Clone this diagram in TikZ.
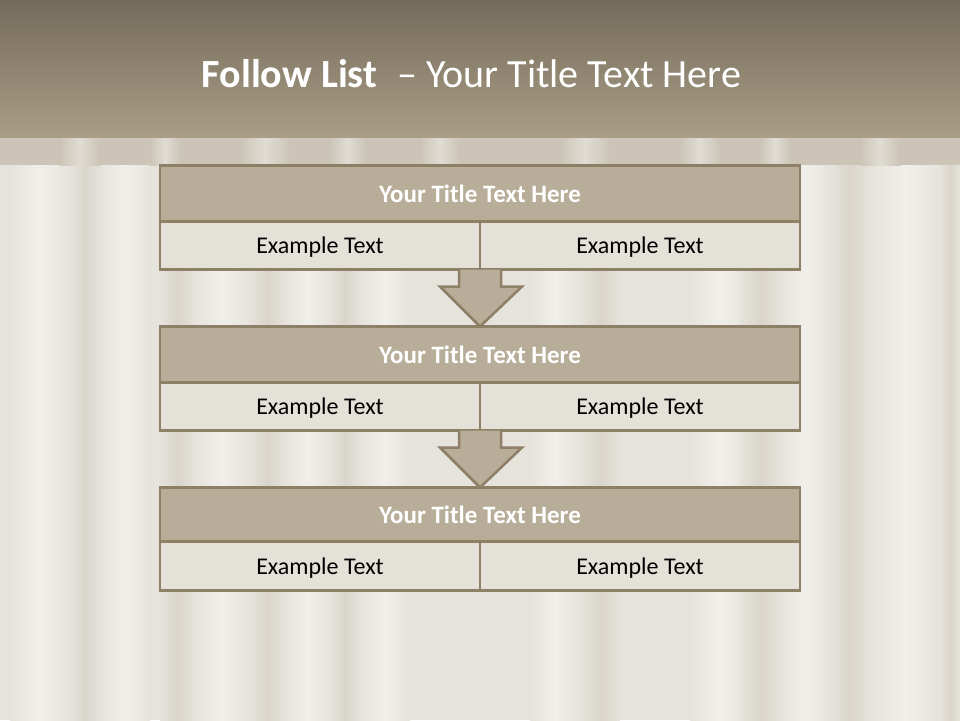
\documentclass[tikz,border=0pt]{standalone}
\usepackage{fontspec}
\setmainfont{Carlito}
\usetikzlibrary{calc}
\definecolor{hdtop}{HTML}{756B5B}
\definecolor{hdbot}{HTML}{A99D85}
\definecolor{bandc}{HTML}{CCC5B7}
\definecolor{bgc}{HTML}{E6E3DC}
\definecolor{bgl}{HTML}{F1EFEA}
\definecolor{bgd}{HTML}{D9D5CC}
\definecolor{titlefill}{HTML}{B8AD98}
\definecolor{bordc}{HTML}{8E7F67}
\definecolor{cellfill}{HTML}{E4E1D9}
\tikzset{
  titlebox/.style={draw=bordc, line width=2.5pt, fill=titlefill, minimum width=640pt, minimum height=56pt, inner sep=0pt, outer sep=0pt, text depth=0pt, text=white, font=\fontsize{25}{28}\selectfont\bfseries},
  cellbox/.style={draw=bordc, line width=2.5pt, fill=cellfill, minimum width=320pt, minimum height=48pt, inner sep=0pt, outer sep=0pt, text depth=0pt, text=black, font=\fontsize{24}{27}\selectfont},
  flowarrow/.style={draw=bordc, line width=2.5pt, fill=titlefill, line join=miter},
}
\begin{document}
\begin{tikzpicture}[x=1pt,y=1pt]
\useasboundingbox (0,0) rectangle (960,-720);
% background
\fill[bgc] (0,0) rectangle (960,-720);
\foreach \xa/\w in {10/60, 100/50, 195/55, 285/45, 360/50, 530/50, 690/60, 780/50, 870/70}
  {\shade[left color=bgc, right color=bgc, middle color=bgl] (\xa,-165) rectangle ++(\w,-555);}
\foreach \xa/\w in {70/30, 160/35, 250/35, 330/30, 580/40, 740/40, 830/40, 940/20}
  {\shade[left color=bgc, right color=bgc, middle color=bgd] (\xa,-165) rectangle ++(\w,-555);}
% band
\fill[bandc] (0,-137) rectangle (960,-165);
\foreach \xa/\w in {60/40, 150/30, 240/50, 330/35, 420/40, 560/50, 680/40, 760/30, 860/40}
  {\shade[left color=bandc, right color=bandc, middle color=bandc!60!white] (\xa,-137) rectangle ++(\w,-28);}
% header
\shade[top color=hdtop, bottom color=hdbot] (0,0) rectangle (960,-137);
\node[text=white, font=\fontsize{40}{44}\selectfont, anchor=base] (title) at (471.5,-87) {\textbf{Follow List}\enspace– Your Title Text Here};
% boxes
\node[titlebox] (t1) at (480,-193.5) {Your Title Text Here};
\node[cellbox, anchor=north east] (a1) at (t1.south) {Example Text};
\node[cellbox, anchor=north west] (b1) at (t1.south) {Example Text};
\node[titlebox] (t2) at (480,-354.5) {Your Title Text Here};
\node[cellbox, anchor=north east] (a2) at (t2.south) {Example Text};
\node[cellbox, anchor=north west] (b2) at (t2.south) {Example Text};
\node[titlebox, minimum height=54pt] (t3) at (480,-514.5) {Your Title Text Here};
\node[cellbox, minimum height=49pt, anchor=north east] (a3) at (t3.south) {Example Text};
\node[cellbox, minimum height=49pt, anchor=north west] (b3) at (t3.south) {Example Text};
% arrows
\foreach \s/\e in {a1/t2, a2/t3}{
  \draw[flowarrow] ($(\s.south east)+(-21,0)$) -- ($(\s.south east)+(-21,-17)$) -- ($(\s.south east)+(-40,-17)$)
    -- (\e.north) -- ($(\s.south east)+(42,-17)$) -- ($(\s.south east)+(21,-17)$) -- ($(\s.south east)+(21,0)$);
}
\end{tikzpicture}
\end{document}
